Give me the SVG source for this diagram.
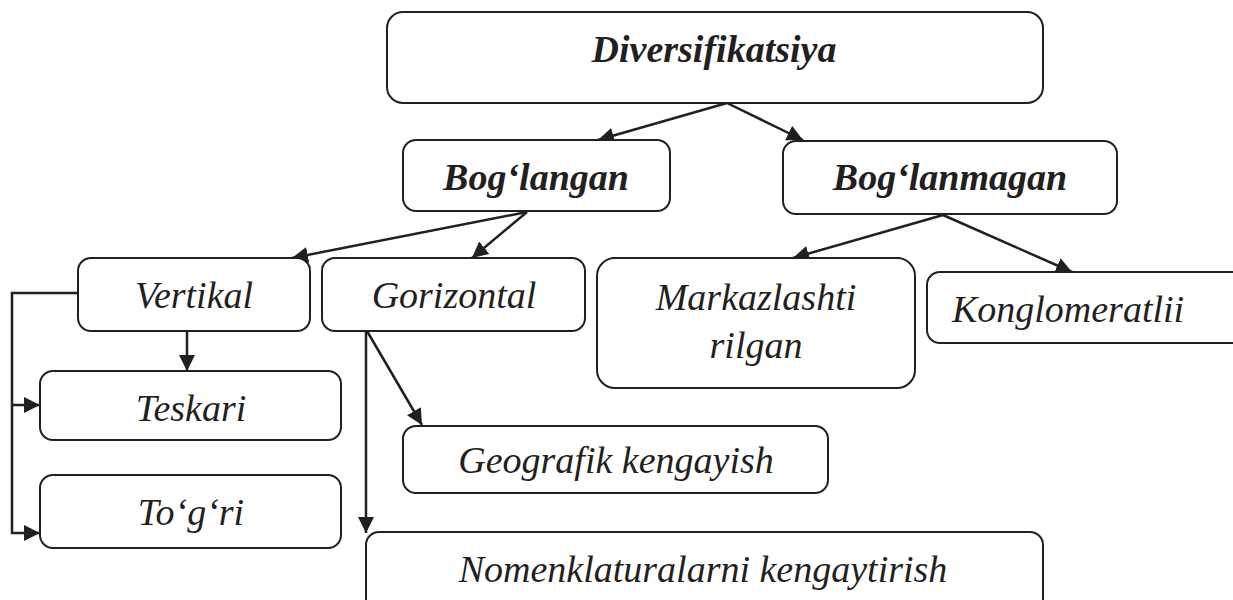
<svg xmlns="http://www.w3.org/2000/svg" width="1233" height="600" viewBox="0 0 1233 600">
<style>
.box{fill:#fff;stroke:#231f20;stroke-width:2}
.t{font-family:"Liberation Serif","Times New Roman",serif;font-style:italic;font-size:38px;fill:#231f20;text-anchor:middle}
.b{font-weight:bold}
.c{fill:none;stroke:#231f20;stroke-width:2.5}
</style>
<defs>
<marker id="ah" markerUnits="userSpaceOnUse" markerWidth="18" markerHeight="18" refX="16" refY="8" orient="auto">
<path d="M0,0 L16,8 L0,16 Z" fill="#231f20"/>
</marker>
</defs>
<rect width="1233" height="600" fill="#fff"/>
<g id="connectors">
<line class="c" x1="727" y1="103" x2="598" y2="140" marker-end="url(#ah)"/>
<line class="c" x1="727" y1="103" x2="803" y2="140" marker-end="url(#ah)"/>
<line class="c" x1="527" y1="212" x2="292" y2="258" marker-end="url(#ah)"/>
<line class="c" x1="527" y1="212" x2="472" y2="258" marker-end="url(#ah)"/>
<line class="c" x1="943" y1="215" x2="793" y2="258" marker-end="url(#ah)"/>
<line class="c" x1="943" y1="215" x2="1072" y2="272" marker-end="url(#ah)"/>
<line class="c" x1="187" y1="331" x2="187" y2="371" marker-end="url(#ah)"/>
<polyline class="c" points="78,293 12,293 12,533 40,533" marker-end="url(#ah)"/>
<line class="c" x1="12" y1="405" x2="40" y2="405" marker-end="url(#ah)"/>
<line class="c" x1="366" y1="331" x2="366" y2="533" marker-end="url(#ah)"/>
<line class="c" x1="367" y1="331" x2="422" y2="425" marker-end="url(#ah)"/>
</g>
<g id="diversifikatsiya">
<rect class="box" x="387" y="12" width="656" height="91" rx="16"/>
<text class="t b" x="714" y="62">Diversifikatsiya</text>
</g>
<g id="boglangan">
<rect class="box" x="403" y="140" width="267" height="71" rx="13"/>
<text class="t b" x="536" y="190">Bog‘langan</text>
</g>
<g id="boglanmagan">
<rect class="box" x="783" y="141" width="334" height="73" rx="13"/>
<text class="t b" x="950" y="190">Bog‘lanmagan</text>
</g>
<g id="vertikal">
<rect class="box" x="78" y="258" width="232" height="73" rx="13"/>
<text class="t" x="194" y="308">Vertikal</text>
</g>
<g id="gorizontal">
<rect class="box" x="322" y="258" width="263" height="73" rx="13"/>
<text class="t" x="454" y="308">Gorizontal</text>
</g>
<g id="markazlashtirilgan">
<rect class="box" x="597" y="258" width="318" height="130" rx="18"/>
<text class="t" x="756" y="310">Markazlashti</text>
<text class="t" x="756" y="358">rilgan</text>
</g>
<g id="konglomeratlii">
<rect class="box" x="927" y="272" width="330" height="71" rx="13"/>
<text class="t" x="1068" y="322">Konglomeratlii</text>
</g>
<g id="teskari">
<rect class="box" x="40" y="371" width="301" height="69" rx="13"/>
<text class="t" x="191" y="421">Teskari</text>
</g>
<g id="togri">
<rect class="box" x="40" y="475" width="301" height="73" rx="13"/>
<text class="t" x="191" y="525">To‘g‘ri</text>
</g>
<g id="geografik">
<rect class="box" x="403" y="426" width="425" height="67" rx="13"/>
<text class="t" x="616" y="473">Geografik kengayish</text>
</g>
<g id="nomenklatura">
<rect class="box" x="366" y="532" width="677" height="90" rx="13"/>
<text class="t" x="703" y="582">Nomenklaturalarni kengaytirish</text>
</g>
</svg>
